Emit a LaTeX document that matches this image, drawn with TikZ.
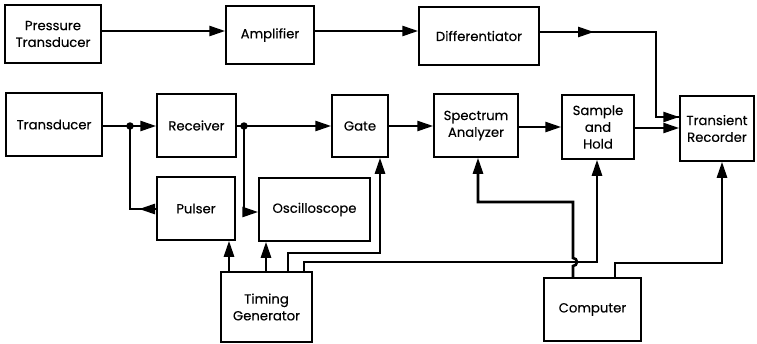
\documentclass[tikz,border=0pt]{standalone}
\usepackage{fontspec}
\setmainfont{Poppins}[UprightFeatures={FakeBold=0.25}]
\usetikzlibrary{arrows.meta}
\begin{document}
\begin{tikzpicture}[x=1pt,y=-1pt,
  box/.style={draw,line width=1.5pt,align=center,inner sep=0pt,font=\fontsize{13.2}{16.8}\selectfont},
  wire/.style={line width=2.6pt,line join=miter},
  conn/.style={wire,-{Triangle[length=16pt,width=10pt]}},
  dot/.style={circle,fill,inner sep=0pt,minimum size=7.5pt}]
\useasboundingbox (0,0) rectangle (757,343);
% boxes
\node[box,minimum width=96pt,minimum height=58pt] (PT) at (53,34) {Pressure\\Transducer};
\node[box,minimum width=88pt,minimum height=58pt] (Amp) at (270,35) {Amplifier};
\node[box,minimum width=120pt,minimum height=58pt] (Diff) at (479,36) {Differentiator};
\node[box,minimum width=96pt,minimum height=63pt] (Trans) at (54,124.5) {Transducer};
\node[box,minimum width=79pt,minimum height=63pt] (Recv) at (196.5,125.5) {Receiver};
\node[box,minimum width=56pt,minimum height=62pt] (Gate) at (360,126) {Gate};
\node[box,minimum width=84pt,minimum height=63pt] (SA) at (476,125.5) {Spectrum\\Analyzer};
\node[box,minimum width=72pt,minimum height=64pt] (SH) at (598,127) {Sample\\and\\Hold};
\node[box,minimum width=74pt,minimum height=65pt] (TR) at (717,128.5) {Transient\\Recorder};
\node[box,minimum width=78pt,minimum height=63pt] (Pulser) at (196,208.5) {Pulser};
\node[box,minimum width=111pt,minimum height=63pt] (Osc) at (314.5,209.5) {Oscilloscope};
\node[box,minimum width=91pt,minimum height=70pt] (TG) at (266.5,307) {Timing\\Generator};
\node[box,minimum width=97pt,minimum height=63pt] (Comp) at (592.5,309.5) {Computer};
% helper coordinates
\coordinate (y31) at (0,31);
\coordinate (y32) at (0,32);
\coordinate (y126) at (0,126);
\coordinate (y128) at (0,128);
\node[dot] (d1) at (130,126) {};
\node[dot] (d2) at (244,126) {};
% top row
\draw[conn] (PT.east |- y31) -- (Amp.west |- y31);
\draw[conn] (Amp.east |- y31) -- (Diff.west |- y31);
\draw[wire] (Diff.east |- y32) -- (656,32) -- (656,117) -- (TR.west |- 0,117);
\draw[conn] (Diff.east |- y32) -- (594,32);
\draw[conn] (656,117) -- (TR.west |- 0,117);
% second row
\draw[conn] (Trans.east |- y126) -- (Recv.west |- y126);
\draw[conn] (Recv.east |- y126) -- (Gate.west |- y126);
\draw[conn] (Gate.east |- y126) -- (SA.west |- y126);
\draw[conn] (SA.east |- 0,127) -- (SH.west |- 0,127);
\draw[conn] (SH.east |- y128) -- (TR.west |- y128);
% pulser and oscilloscope
\draw[wire] (Pulser.west |- 0,209) -- (130,209) -- (d1.center);
\draw[conn] (Pulser.west |- 0,209) -- (139,209);
\draw[conn] (d2.center) -- (244,212) -- (Osc.west |- 0,212);
% timing generator
\draw[conn] (TG.north -| 229,0) -- (Pulser.south -| 229,0);
\draw[conn] (TG.north -| 266,0) -- (Osc.south -| 266,0);
\draw[conn] (TG.north -| 288,0) -- (288,253) -- (380,253) -- (Gate.south -| 380,0);
\draw[conn] (TG.north -| 304,0) -- (304,262) -- (597,262) -- (SH.south -| 597,0);
% computer
\draw[conn] (Comp.north -| 573,0) -- (573,266) arc[start angle=-90,end angle=90,radius=4pt] -- (573,202) -- (478,202) -- (SA.south -| 478,0);
\draw[conn] (Comp.north -| 615,0) -- (615,263) -- (722,263) -- (TR.south -| 722,0);
\end{tikzpicture}
\end{document}
